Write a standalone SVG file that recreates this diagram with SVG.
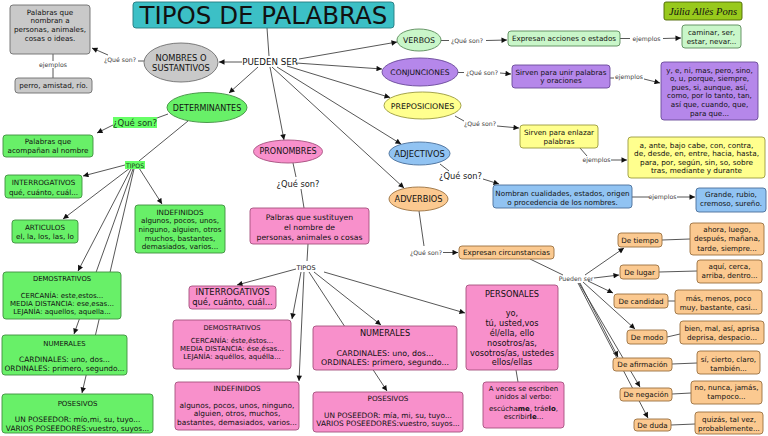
<svg xmlns="http://www.w3.org/2000/svg" width="768" height="436" viewBox="0 0 768 436">
<style>
text{font-family:"DejaVu Sans",Verdana,sans-serif;font-size:7.2px;fill:#111;text-anchor:middle}
.l{font-size:6.2px;fill:#444}
.q{font-size:8.3px;fill:#222}
.e{font-size:8px}
#connectors line{stroke:#444;stroke-width:0.9;fill:none}
#connectors .a{marker-end:url(#ah)}
rect,ellipse{stroke-width:0.9}
.gray{fill:#c9c9c9;stroke:#6e6e6e}
.green{fill:#68f068;stroke:#3f8f3f}
.pink{fill:#f890cb;stroke:#a5507e}
.purple{fill:#b587ea;stroke:#6a4a99}
.yellow{fill:#ffff8e;stroke:#9a9a40}
.lgreen{fill:#c9f6c9;stroke:#5a8a5a}
.blue{fill:#91c3f2;stroke:#4a6e99}
.orange{fill:#fbc990;stroke:#9a7040}
.teal{fill:#3cc0c6;stroke:#257a80}
.olive{fill:#98c91c;stroke:#4a6400}
</style>
<defs>
<marker id="ah" viewBox="0 0 10 10" refX="10" refY="5" markerWidth="7" markerHeight="5.5" markerUnits="userSpaceOnUse" orient="auto"><path d="M0,0 L10,5 L0,10 z" fill="#111"/></marker>
</defs>

<g id="connectors">
<line x1="267" y1="28" x2="269" y2="56"/>
<line class="a" x1="242" y1="62" x2="219" y2="62"/>
<line x1="144" y1="61" x2="138" y2="61"/>
<line class="a" x1="108" y1="55" x2="92" y2="48"/>
<line x1="53" y1="54" x2="53" y2="61"/>
<line x1="53" y1="68" x2="53" y2="78"/>
<line class="a" x1="258" y1="67" x2="229" y2="93"/>
<line class="a" x1="299" y1="59" x2="397" y2="42"/>
<line class="a" x1="296" y1="63" x2="382" y2="69"/>
<line class="a" x1="287" y1="66" x2="390" y2="97.5"/>
<line class="a" x1="277" y1="67" x2="401" y2="144"/>
<line class="a" x1="272" y1="67" x2="404" y2="188"/>
<line class="a" x1="270" y1="67" x2="284" y2="140"/>
<line x1="168" y1="114" x2="157" y2="118"/>
<line class="a" x1="113" y1="125" x2="97" y2="133"/>
<line x1="188" y1="121" x2="139" y2="161"/>
<line class="a" x1="125" y1="165" x2="83" y2="176"/>
<line class="a" x1="130" y1="168" x2="63" y2="219"/>
<line class="a" x1="139" y1="168" x2="162" y2="204"/>
<line class="a" x1="131" y1="169" x2="78" y2="271"/>
<line class="a" x1="133" y1="169" x2="74" y2="334"/>
<line class="a" x1="134" y1="169" x2="82" y2="393"/>
<line x1="293" y1="163" x2="296" y2="177"/>
<line x1="301" y1="189" x2="304" y2="208"/>
<line x1="308" y1="244" x2="307" y2="261"/>
<line class="a" x1="296" y1="269" x2="237" y2="285"/>
<line class="a" x1="301" y1="272" x2="292" y2="319"/>
<line class="a" x1="304" y1="272" x2="299" y2="381"/>
<line class="a" x1="309" y1="272" x2="387" y2="391"/>
<line class="a" x1="314" y1="272" x2="381" y2="325"/>
<line class="a" x1="324" y1="272" x2="465" y2="313"/>
<line x1="516" y1="370" x2="518" y2="382"/>
<line x1="441" y1="40.5" x2="449" y2="40.5"/>
<line class="a" x1="486" y1="40.5" x2="507" y2="40"/>
<line x1="620" y1="38.5" x2="630" y2="38.5"/>
<line class="a" x1="663" y1="38.5" x2="681" y2="38"/>
<line x1="458" y1="72.5" x2="464" y2="72.5"/>
<line class="a" x1="500" y1="73" x2="511" y2="74"/>
<line x1="610" y1="78" x2="614" y2="78"/>
<line class="a" x1="644" y1="79" x2="660" y2="83"/>
<line x1="455" y1="116" x2="464" y2="121"/>
<line class="a" x1="497" y1="126" x2="519" y2="128"/>
<line x1="580" y1="148" x2="587" y2="156"/>
<line class="a" x1="611" y1="160" x2="627" y2="160"/>
<line x1="440" y1="164" x2="449" y2="171"/>
<line class="a" x1="483" y1="179" x2="499" y2="184"/>
<line x1="632" y1="197" x2="649" y2="197"/>
<line class="a" x1="677" y1="197" x2="695" y2="197"/>
<line x1="419" y1="211" x2="424" y2="246"/>
<line class="a" x1="443" y1="252.5" x2="458" y2="252.5"/>
<line x1="530" y1="259" x2="563" y2="275"/>
<line class="a" x1="585" y1="275" x2="624" y2="248"/>
<line class="a" x1="594" y1="278" x2="619" y2="275"/>
<line class="a" x1="588" y1="281" x2="613" y2="293"/>
<line class="a" x1="583" y1="282" x2="635" y2="329"/>
<line class="a" x1="580" y1="283" x2="618" y2="357"/>
<line class="a" x1="579" y1="283" x2="640" y2="387"/>
<line class="a" x1="578" y1="283" x2="648" y2="418"/>
<line x1="662" y1="240" x2="690" y2="239"/>
<line x1="659" y1="272" x2="697" y2="271"/>
<line x1="668" y1="301" x2="675" y2="301"/>
<line x1="667" y1="337" x2="680" y2="334"/>
<line x1="672" y1="364" x2="697" y2="363"/>
<line x1="672" y1="394" x2="691" y2="393"/>
<line x1="671" y1="425" x2="695" y2="424"/>
</g>

<g id="labels">
<text class="l" x="120" y="62">¿Qué son?</text>
<text class="l" x="53" y="67">ejemplos</text>
<text x="270" y="65" style="font-size:8.7px">PUEDEN SER</text>
<rect x="113" y="117" width="44" height="11" fill="#66ff66" stroke="none"/>
<text x="135" y="125.5" style="font-size:8.5px;fill:#1a3a1a">¿Qué son?</text>
<rect x="125" y="161" width="20" height="8" fill="#66ff66" stroke="none"/>
<text x="135" y="167.5" style="font-size:6.2px;fill:#1a3a1a">TIPOS</text>
<text class="q" x="298" y="187">¿Qué son?</text>
<text x="306" y="270" style="font-size:6.5px;fill:#222">TIPOS</text>
<text class="l" x="467" y="43">¿Qué son?</text>
<text class="l" x="646.5" y="40.5">ejemplos</text>
<text class="l" x="482" y="74.5">¿Qué son?</text>
<text class="l" x="629" y="79">ejemplos</text>
<text class="l" x="480" y="125.5">¿Qué son?</text>
<text class="l" x="596.5" y="162">ejemplos</text>
<text class="q" x="460.5" y="179">¿Qué son?</text>
<text class="l" x="662.5" y="199">ejemplos</text>
<text class="l" x="426" y="254.5">¿Qué son?</text>
<text class="l" x="576" y="281">Pueden ser</text>
</g>

<g id="title"><rect class="teal" x="133" y="2" width="261" height="26" rx="3"/><text x="263.5" y="24" style="font-size:24.5px">TIPOS DE PALABRAS</text></g>
<g id="autor"><rect class="olive" x="664" y="2" width="78" height="18" rx="2"/><text x="703" y="15" style="font-family:'Liberation Serif',serif;font-style:italic;font-size:10.5px">Júlia Allès Pons</text></g>

<g id="nombres"><ellipse class="gray" cx="181" cy="62.5" rx="37" ry="19.5"/><text class="e" x="181" y="61.3" style="font-size:8.3px">NOMBRES O</text><text class="e" x="181" y="71.3" style="font-size:8.3px">SUSTANTIVOS</text></g>
<g id="nombres-def"><rect class="gray" x="10" y="5" width="80" height="49" rx="3"/><text x="50" y="14.5">Palabras que</text><text x="50" y="23.2">nombran a</text><text x="50" y="31.9">personas, animales,</text><text x="50" y="40.6">cosas o ideas.</text></g>
<g id="nombres-ej"><rect class="gray" x="15" y="78" width="77" height="15" rx="3"/><text x="53.5" y="88">perro, amistad, río.</text></g>

<g id="determinantes"><ellipse class="green" cx="207" cy="107.5" rx="40" ry="15"/><text class="e" x="207" y="110.5">DETERMINANTES</text></g>
<g id="det-def"><rect class="green" x="3" y="135" width="90" height="22" rx="3"/><text x="48" y="144">Palabras que</text><text x="48" y="152.5">acompañan al nombre</text></g>
<g id="det-interrog"><rect class="green" x="5" y="175" width="77" height="23" rx="3"/><text x="43.5" y="184.5">INTERROGATIVOS</text><text x="43.5" y="194.5">qué, cuánto, cuál...</text></g>
<g id="det-articulos"><rect class="green" x="12" y="220" width="66" height="23" rx="3"/><text x="45" y="229.5">ARTICULOS</text><text x="45" y="238.5">el, la, los, las, lo</text></g>
<g id="det-indef"><rect class="green" x="135" y="205" width="90" height="48" rx="3"/><text x="180" y="214.5">INDEFINIDOS</text><text x="180" y="223.2">algunos, pocos, unos,</text><text x="180" y="231.9">ninguno, alguien, otros</text><text x="180" y="240.6">muchos, bastantes,</text><text x="180" y="249.3">demasiados, varios...</text></g>
<g id="det-demos"><rect class="green" x="3" y="272" width="118" height="47" rx="3"/><text x="62" y="280.5" style="font-size:6.8px">DEMOSTRATIVOS</text><text x="62" y="298.3" style="font-size:7px">CERCANÍA: este,estos...</text><text x="62" y="306" style="font-size:7px">MEDIA DISTANCIA: ese,esas...</text><text x="62" y="313.7" style="font-size:7px">LEJANÍA: aquellos, aquella...</text></g>
<g id="det-num"><rect class="green" x="2" y="335" width="125" height="40" rx="3"/><text x="64.5" y="345.5" style="font-size:6.9px">NUMERALES</text><text x="64.5" y="362" style="font-size:7.4px">CARDINALES: uno, dos...</text><text x="64.5" y="370.5" style="font-size:7.4px">ORDINALES: primero, segundo...</text></g>
<g id="det-pos"><rect class="green" x="2" y="394" width="151" height="39" rx="3"/><text x="77.5" y="405.5" style="font-size:7px">POSESIVOS</text><text x="77.5" y="422" style="font-size:7.4px">UN POSEEDOR: mío,mi, su, tuyo...</text><text x="77.5" y="430.5" style="font-size:7.4px">VARIOS POSEEDORES:vuestro, suyos...</text></g>

<g id="pronombres"><ellipse class="pink" cx="288" cy="151.5" rx="34.5" ry="11.5"/><text class="e" x="288" y="154.3">PRONOMBRES</text></g>
<g id="pro-def"><rect class="pink" x="250" y="208" width="119" height="36" rx="3"/><text x="309.5" y="219.7" style="font-size:7.7px">Palbras que sustituyen</text><text x="309.5" y="229.7" style="font-size:7.7px">el nombre de</text><text x="309.5" y="239.7" style="font-size:7.7px">personas, animales o cosas</text></g>
<g id="pro-interrog"><rect class="pink" x="189" y="286" width="87" height="23" rx="3"/><text x="232.5" y="295" style="font-size:8.4px">INTERROGATIVOS</text><text x="232.5" y="305" style="font-size:8.4px">qué, cuánto, cuál...</text></g>
<g id="pro-demos"><rect class="pink" x="173" y="320" width="118" height="49" rx="3"/><text x="232" y="329.5" style="font-size:6.7px">DEMOSTRATIVOS</text><text x="232" y="343.3" style="font-size:7px">CERCANÍA: éste,éstos...</text><text x="232" y="351.3" style="font-size:7px">MEDIA DISTANCIA: ése,ésas...</text><text x="232" y="359.3" style="font-size:7px">LEJANÍA: aquéllos, aquélla...</text></g>
<g id="pro-indef"><rect class="pink" x="175" y="382" width="124" height="48" rx="3"/><text x="237" y="390.5">INDEFINIDOS</text><text x="237" y="407.6" style="font-size:7.4px">algunos, pocos, unos, ninguno,</text><text x="237" y="416.1" style="font-size:7.4px">alguien, otros, muchos,</text><text x="237" y="424.6" style="font-size:7.4px">bastantes, demasiados, varios...</text></g>
<g id="pro-num"><rect class="pink" x="313" y="326" width="144" height="44" rx="3"/><text x="385" y="336" style="font-size:8.2px">NUMERALES</text><text x="385" y="356" style="font-size:7.9px">CARDINALES: uno, dos...</text><text x="385" y="365" style="font-size:7.9px">ORDINALES: primero, segundo...</text></g>
<g id="pro-pos"><rect class="pink" x="313" y="392" width="150" height="40" rx="3"/><text x="388" y="401">POSESIVOS</text><text x="388" y="418" style="font-size:7.4px">UN POSEEDOR: mía, mi, su, tuyo...</text><text x="388" y="426" style="font-size:7.4px">VARIOS POSEEDORES:vuestro, suyos...</text></g>
<g id="pro-personales"><rect class="pink" x="466" y="285" width="92" height="85" rx="3"/><text x="512" y="297" style="font-size:8.2px">PERSONALES</text><text x="512" y="316" style="font-size:8.2px">yo,</text><text x="512" y="326" style="font-size:8.2px">tú, usted,vos</text><text x="512" y="336" style="font-size:8.2px">él/ella, ello</text><text x="512" y="346" style="font-size:8.2px">nosotros/as,</text><text x="512" y="356" style="font-size:8.2px">vosotros/as, ustedes</text><text x="512" y="365" style="font-size:8.2px">ellos/ellas</text></g>
<g id="pro-aveces"><rect class="pink" x="483" y="382" width="81" height="46" rx="3"/><text x="523.5" y="391" style="font-size:7px">A veces se escriben</text><text x="523.5" y="398.5" style="font-size:7px">unidos al verbo:</text><text x="523.5" y="411" style="font-size:7px">escúcha<tspan font-weight="bold">me</tspan>, tráe<tspan font-weight="bold">lo</tspan>,</text><text x="523.5" y="418.5" style="font-size:7px">escribir<tspan font-weight="bold">le</tspan>...</text></g>

<g id="verbos"><ellipse class="lgreen" cx="419" cy="40" rx="22" ry="11"/><text class="e" x="419" y="43" style="font-size:7.8px">VERBOS</text></g>
<g id="verbos-def"><rect class="lgreen" x="508" y="31" width="112" height="15" rx="3"/><text x="564" y="41">Expresan acciones o estados</text></g>
<g id="verbos-ej"><rect class="lgreen" x="682" y="25" width="59" height="23" rx="3"/><text x="711.5" y="34.5">caminar, ser,</text><text x="711.5" y="43.5">estar, nevar...</text></g>

<g id="conjunciones"><ellipse class="purple" cx="420" cy="72" rx="38" ry="14"/><text class="e" x="420" y="75" style="font-size:7.6px">CONJUNCIONES</text></g>
<g id="conj-def"><rect class="purple" x="512" y="65" width="98" height="23" rx="3"/><text x="561" y="74.5">Sirven para unir palabras</text><text x="561" y="82.8">y oraciones</text></g>
<g id="conj-ej"><rect class="purple" x="661" y="62" width="97" height="58" rx="3"/><text x="709.5" y="72.5">y, e, ni, mas, pero, sino,</text><text x="709.5" y="81.1">o, u, porque, siempre,</text><text x="709.5" y="89.7">pues, si, aunque, así,</text><text x="709.5" y="98.3">como, por lo tanto, tan,</text><text x="709.5" y="106.9">así que, cuando, que,</text><text x="709.5" y="115.5">para que...</text></g>

<g id="preposiciones"><ellipse class="yellow" cx="422.5" cy="105.5" rx="38.5" ry="13.5"/><text class="e" x="422.5" y="108.5" style="font-size:7.9px">PREPOSICIONES</text></g>
<g id="prep-def"><rect class="yellow" x="520" y="125" width="78" height="23" rx="3"/><text x="559" y="134.5">Sirven para enlazar</text><text x="559" y="143.5">palabras</text></g>
<g id="prep-ej"><rect class="yellow" x="628" y="137" width="137" height="41" rx="3"/><text x="696.5" y="147.5" style="font-size:7.3px">a, ante, bajo cabe, con, contra,</text><text x="696.5" y="156" style="font-size:7.3px">de, desde, en, entre, hacia, hasta,</text><text x="696.5" y="164.5" style="font-size:7.3px">para, por, según, sin, so, sobre</text><text x="696.5" y="173" style="font-size:7.3px">tras, mediante y durante</text></g>

<g id="adjectivos"><ellipse class="blue" cx="419.5" cy="153.5" rx="30.5" ry="11.5"/><text class="e" x="419.5" y="156.5" style="font-size:8.3px">ADJECTIVOS</text></g>
<g id="adj-def"><rect class="blue" x="493" y="185" width="139" height="23" rx="3"/><text x="562.5" y="195.5">Nombran cualidades, estados, origen</text><text x="562.5" y="204.5">o procedencia de los nombres.</text></g>
<g id="adj-ej"><rect class="blue" x="696" y="188" width="70" height="24" rx="3"/><text x="731" y="196.7">Grande, rubio,</text><text x="731" y="205.7">cremoso, sureño.</text></g>

<g id="adverbios"><ellipse class="orange" cx="418.5" cy="199" rx="29.5" ry="12"/><text class="e" x="418.5" y="202" style="font-size:8.2px">ADVERBIOS</text></g>
<g id="adv-def"><rect class="orange" x="459" y="246" width="95" height="13" rx="3"/><text x="506.5" y="255">Expresan circunstancias</text></g>
<g id="adv-tiempo"><rect class="orange" x="618" y="233" width="44" height="14" rx="3"/><text x="640" y="242.5">De tiempo</text></g>
<g id="adv-tiempo-ej"><rect class="orange" x="690" y="223" width="74" height="32" rx="3"/><text x="727" y="231.5">ahora, luego,</text><text x="727" y="241">después, mañana,</text><text x="727" y="250.5">tarde, siempre...</text></g>
<g id="adv-lugar"><rect class="orange" x="620" y="265" width="39" height="14" rx="3"/><text x="639.5" y="274.5">De lugar</text></g>
<g id="adv-lugar-ej"><rect class="orange" x="697" y="260" width="65" height="23" rx="3"/><text x="729.5" y="268.8">aquí, cerca,</text><text x="729.5" y="277.8">arriba, dentro...</text></g>
<g id="adv-candidad"><rect class="orange" x="614" y="294" width="54" height="14" rx="3"/><text x="641" y="303.5">De candidad</text></g>
<g id="adv-candidad-ej"><rect class="orange" x="675" y="290" width="87" height="24" rx="3"/><text x="718.5" y="300.5">más, menos, poco</text><text x="718.5" y="309.5">muy, bastante, casi...</text></g>
<g id="adv-modo"><rect class="orange" x="627" y="330" width="40" height="14" rx="3"/><text x="647" y="339.5">De modo</text></g>
<g id="adv-modo-ej"><rect class="orange" x="680" y="321" width="84" height="23" rx="3"/><text x="722" y="330.5">bien, mal, así, aprisa</text><text x="722" y="339.5">deprisa, despacio...</text></g>
<g id="adv-afirmacion"><rect class="orange" x="613" y="358" width="59" height="13" rx="3"/><text x="642.5" y="367.3">De afirmación</text></g>
<g id="adv-afirmacion-ej"><rect class="orange" x="697" y="351" width="63" height="23" rx="3"/><text x="728.5" y="361.5">sí, cierto, claro,</text><text x="728.5" y="370.5">también...</text></g>
<g id="adv-negacion"><rect class="orange" x="620" y="388" width="52" height="13" rx="3"/><text x="646" y="397">De negación</text></g>
<g id="adv-negacion-ej"><rect class="orange" x="691" y="381" width="71" height="23" rx="3"/><text x="726.5" y="389.8">no, nunca, jamás,</text><text x="726.5" y="398.8">tampoco...</text></g>
<g id="adv-duda"><rect class="orange" x="634" y="419" width="37" height="12" rx="3"/><text x="652.5" y="427.8">De duda</text></g>
<g id="adv-duda-ej"><rect class="orange" x="695" y="412" width="68" height="22" rx="3"/><text x="729" y="421.5">quizás, tal vez,</text><text x="729" y="430.5">probablemente...</text></g>
</svg>
